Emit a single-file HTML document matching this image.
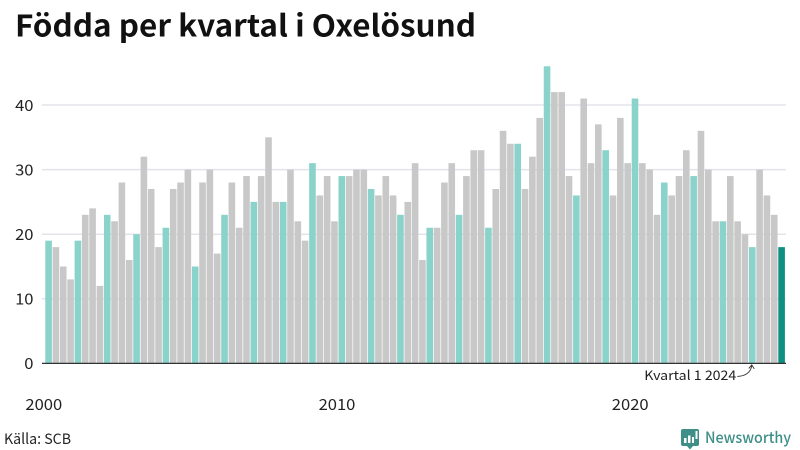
<!DOCTYPE html>
<html lang="sv">
<head>
<meta charset="utf-8">
<title>Födda per kvartal i Oxelösund</title>
<style>
html,body{margin:0;padding:0;background:#fff;width:800px;height:450px;overflow:hidden}
svg{display:block;font-family:"Noto Sans CJK JP","Liberation Sans",sans-serif}
</style>
</head>
<body>
<svg id="chart" xmlns="http://www.w3.org/2000/svg" width="800" height="450" viewBox="0 0 800 450">
  <rect width="800" height="450" fill="#fff"/>
  <text x="15" y="36.500" font-size="30" font-weight="700" fill="#111" textLength="461" lengthAdjust="spacingAndGlyphs">Födda per kvartal i Oxelösund</text>
  <g id="grid"></g>
  <g id="bars"></g>
  <g id="yaxis"></g>
  <g id="xaxis"></g>
  <g id="annotation"></g>
  <text x="4" y="444" font-size="14.5" fill="#222" textLength="67" lengthAdjust="spacingAndGlyphs">Källa: SCB</text>
  <g>
    <path d="M683 429h14a2 2 0 0 1 2 2v13a2 2 0 0 1-2 2h-4l-3 3.500-3-3.500h-4a2 2 0 0 1-2-2v-13a2 2 0 0 1 2-2z" fill="#3d8f88"/>
    <rect x="684" y="438" width="2.500" height="5" fill="#fff"/>
    <rect x="688" y="435.500" width="2.500" height="7.500" fill="#fff"/>
    <rect x="692" y="437" width="2" height="6" fill="#fff"/>
    <rect x="695.500" y="431" width="2" height="8" fill="#fff"/>
    <text x="705" y="443" font-size="15.500" font-weight="500" fill="#3d8f88" textLength="86" lengthAdjust="spacingAndGlyphs">Newsworthy</text>
  </g>
</svg>
<script>
const births = [
  19,18,15,13, 19,23,24,12, 23,22,28,16, 20,32,27,18, 21,27,28,30,
  15,28,30,17, 23,28,21,29, 25,29,35,25, 25,30,22,19, 31,26,29,22,
  29,29,30,30, 27,26,29,26, 23,25,31,16, 21,21,28,31, 23,29,33,33,
  21,27,36,34, 34,27,32,38, 46,42,42,29, 26,41,31,37, 33,26,38,31,
  41,31,30,23, 28,26,29,33, 29,36,30,22, 22,29,22,20, 18,30,26,23,
  18
];
const startYear = 2000;
const yTicks = [0,10,20,30,40];
const xTickYears = [2000,2010,2020];
const annotationLabel = "Kvartal 1 2024";
const annotationYear = 2024;

const NS = "http://www.w3.org/2000/svg";
const plot = {left:42, right:786, zeroY:363.4, unit:6.46, firstBar:45.3, step:7.33, barW:6.6};
const digitW = 9.2;
function xScale(i){ return plot.firstBar + plot.step * i; }
function yScale(v){ return plot.zeroY - plot.unit * v; }
function make(tag, attrs, parent){
  const el = document.createElementNS(NS, tag);
  for (const k in attrs) el.setAttribute(k, attrs[k]);
  parent.appendChild(el);
  return el;
}

const gridG = document.getElementById("grid");
const yG = document.getElementById("yaxis");
yTicks.forEach(function(t){
  if (t !== 0) {
    const line = make("line", {x1:plot.left, x2:plot.right, y1:yScale(t), y2:yScale(t), stroke:"#e3e3ec", "stroke-width":1.5}, gridG);
    
    
  }
  const len = String(t).length * digitW;
  const label = make("text", {x:33.5 - len, y:yScale(t)+5.8, "font-size":15.5, fill:"#222", textLength:len, lengthAdjust:"spacingAndGlyphs"}, yG);
  
  
  label.textContent = t;
});

const barsG = document.getElementById("bars");
births.forEach(function(v, i){
  const last = i === births.length - 1;
  const fill = last ? "#0f8f80" : (i % 4 === 0 ? "#8ad3cb" : "#c8c8c8");
  const bar = make("rect", {x:xScale(i), y:yScale(v), width:plot.barW, height:plot.zeroY - yScale(v), fill:fill}, barsG);
  
  
});

const xG = document.getElementById("xaxis");
const baseline = make("line", {x1:plot.left, x2:plot.right, y1:plot.zeroY, y2:plot.zeroY, stroke:"#333", "stroke-width":1.3}, xG);


xTickYears.forEach(function(y){
  const i = (y - startYear) * 4;
  const len = String(y).length * digitW;
  const label = make("text", {x:xScale(i)-1.5-len/2, y:410, "font-size":15.5, fill:"#222", textLength:len, lengthAdjust:"spacingAndGlyphs"}, xG);
  
  
  label.textContent = y;
});

const annG = document.getElementById("annotation");
const ax = xScale((annotationYear - startYear) * 4) + plot.barW / 2 - 0.5;
const annText = make("text", {x:ax-15.5, y:380, "text-anchor":"end", "font-size":13, fill:"#222", textLength:92, lengthAdjust:"spacingAndGlyphs"}, annG);


annText.textContent = annotationLabel;
const tipY = plot.zeroY + 1;
const annArrow = make("path", {d:"M"+(ax-14.500)+" "+(tipY+12)+"C"+(ax-8)+" "+(tipY+12)+" "+(ax-1)+" "+(tipY+9)+" "+ax+" "+(tipY+1)+"M"+(ax-3)+" "+(tipY+4)+"L"+ax+" "+(tipY+0.5)+"L"+(ax+2.500)+" "+(tipY+4.500), fill:"none", stroke:"#333", "stroke-width":0.9}, annG);


</script>
</body>
</html>
